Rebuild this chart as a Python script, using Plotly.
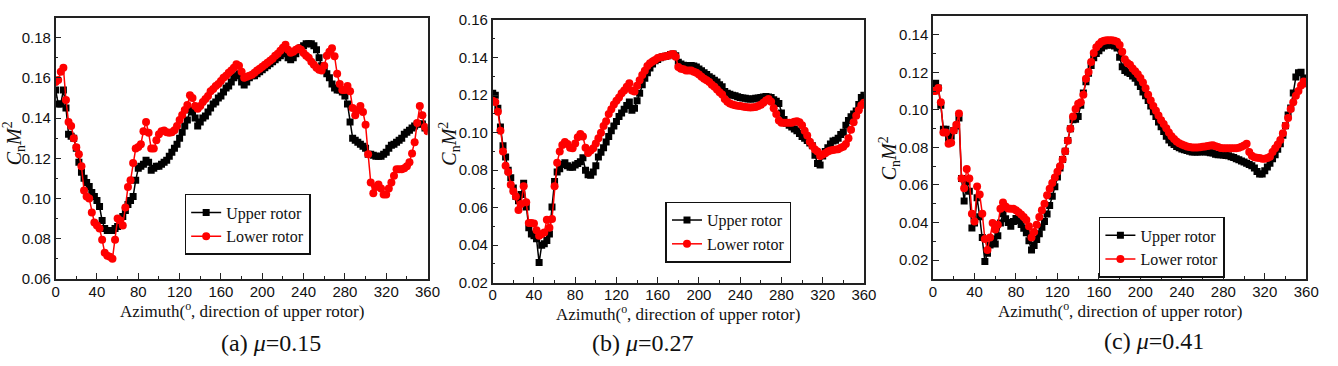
import plotly.graph_objects as go

# Azimuth grid (deg), shared by all series
azimuth = [i * 2.5 for i in range(145)]

# (a) mu = 0.15
a_upper = [0.154,0.147,0.147,0.154,0.145,0.132,0.131,0.130,0.125,0.118,0.113,0.110,0.108,0.106,0.103,0.101,0.099,0.096,0.089,0.085,
           0.084,0.084,0.084,0.085,0.086,0.089,0.091,0.094,0.097,0.099,0.101,0.109,0.115,0.116,0.117,0.119,0.118,0.114,0.115,0.116,
           0.116,0.117,0.118,0.119,0.121,0.123,0.125,0.127,0.130,0.133,0.136,0.139,0.144,0.143,0.140,0.136,0.138,0.140,0.141,0.143,
           0.145,0.147,0.148,0.150,0.151,0.153,0.155,0.156,0.158,0.160,0.161,0.162,0.158,0.1565,0.158,0.160,0.161,0.161,0.162,0.163,
           0.164,0.165,0.166,0.167,0.168,0.169,0.170,0.171,0.172,0.173,0.170,0.169,0.170,0.172,0.174,0.175,0.176,0.177,0.177,0.177,
           0.176,0.174,0.170,0.166,0.164,0.162,0.160,0.157,0.155,0.154,0.154,0.153,0.151,0.147,0.138,0.130,0.129,0.128,0.127,0.126,
           0.125,0.122,0.122,0.1215,0.121,0.121,0.121,0.122,0.123,0.125,0.1265,0.127,0.128,0.129,0.130,0.132,0.133,0.134,0.135,0.136,
           0.137,0.137,0.137,0.135,0.134]
a_lower = [0.158,0.159,0.163,0.165,0.149,0.138,0.136,0.130,0.1255,0.122,0.116,0.104,0.101,0.100,0.093,0.088,0.0865,0.085,0.0795,0.073,
           0.0715,0.071,0.070,0.0795,0.090,0.089,0.0865,0.0955,0.1057,0.109,0.1176,0.1248,0.1256,0.127,0.1335,0.138,0.1327,0.1248,0.1248,0.129,
           0.132,0.1335,0.1338,0.1330,0.1327,0.1330,0.1340,0.136,0.139,0.1415,0.144,0.1465,0.1513,0.150,0.146,0.1446,0.146,0.148,0.1495,0.151,
           0.1533,0.1545,0.156,0.157,0.1585,0.160,0.161,0.1625,0.1637,0.165,0.1668,0.166,0.163,0.160,0.1605,0.161,0.1615,0.1625,0.1637,0.1645,
           0.1655,0.1665,0.1675,0.1685,0.1695,0.171,0.172,0.1735,0.175,0.1765,0.174,0.1725,0.173,0.174,0.1748,0.174,0.1724,0.171,0.170,0.168,
           0.1665,0.165,0.164,0.1637,0.166,0.171,0.173,0.1748,0.1708,0.162,0.157,0.154,0.154,0.156,0.1533,0.145,0.1414,0.144,0.146,0.143,
           0.1367,0.122,0.108,0.1026,0.1057,0.107,0.105,0.102,0.102,0.105,0.108,0.1113,0.1145,0.1145,0.1145,0.115,0.116,0.118,0.1224,0.128,
           0.1375,0.146,0.1414,0.1356,0.1335]

# (b) mu = 0.27
b_upper = [0.121,0.120,0.113,0.103,0.093,0.087,0.080,0.076,0.0705,0.066,0.0637,0.067,0.073,0.0603,0.0493,0.046,0.045,0.0434,0.0307,0.040,
           0.0408,0.0425,0.046,0.0603,0.074,0.079,0.0807,0.083,0.084,0.0823,0.0815,0.0815,0.0827,0.0835,0.0845,0.0866,0.080,0.0775,0.0773,0.079,
           0.0823,0.087,0.0895,0.092,0.095,0.098,0.101,0.1035,0.106,0.1086,0.1105,0.1125,0.1145,0.1163,0.112,0.113,0.117,0.121,0.1256,0.129,
           0.132,0.1345,0.1366,0.1383,0.139,0.140,0.1405,0.1408,0.141,0.1417,0.142,0.141,0.1375,0.1366,0.136,0.1358,0.1358,0.1358,0.1355,0.135,
           0.134,0.133,0.132,0.131,0.1298,0.129,0.128,0.127,0.1255,0.1245,0.122,0.121,0.1205,0.120,0.1197,0.1192,0.1188,0.1185,0.1183,0.118,
           0.118,0.118,0.1183,0.1185,0.1188,0.119,0.1193,0.119,0.1188,0.1175,0.1168,0.1155,0.1105,0.107,0.105,0.104,0.103,0.102,0.101,0.0995,
           0.098,0.097,0.0958,0.0945,0.093,0.088,0.0835,0.0827,0.0875,0.090,0.092,0.094,0.0956,0.0959,0.097,0.099,0.1002,0.104,0.1065,0.1085,
           0.110,0.1115,0.115,0.1188,0.120]
b_lower = [0.117,0.1163,0.1112,0.101,0.090,0.0823,0.079,0.0722,0.0688,0.066,0.0587,0.062,0.0714,0.0629,0.0518,0.0518,0.0515,0.048,0.045,0.046,
           0.0468,0.0536,0.0493,0.054,0.0714,0.084,0.090,0.0934,0.095,0.094,0.092,0.0917,0.0942,0.0976,0.0993,0.098,0.092,0.0892,0.0905,0.0917,
           0.0942,0.097,0.100,0.1035,0.1061,0.110,0.1125,0.115,0.117,0.1188,0.121,0.1225,0.1245,0.1264,0.1225,0.122,0.125,0.128,0.1307,0.133,
           0.1355,0.137,0.138,0.1388,0.1398,0.1402,0.1405,0.1408,0.141,0.1417,0.142,0.1405,0.135,0.1341,0.1338,0.1332,0.1332,0.1332,0.1325,0.1319,
           0.131,0.1298,0.1288,0.128,0.127,0.1256,0.1245,0.123,0.1215,0.1203,0.118,0.1165,0.1155,0.115,0.1146,0.1144,0.1142,0.114,0.1137,0.1135,
           0.1134,0.1135,0.1137,0.1142,0.1149,0.116,0.1171,0.118,0.1165,0.113,0.110,0.1065,0.1053,0.1053,0.1053,0.1053,0.1053,0.1058,0.1061,0.1055,
           0.104,0.101,0.0985,0.0951,0.093,0.091,0.090,0.0875,0.0883,0.089,0.090,0.0905,0.0908,0.091,0.0912,0.092,0.0925,0.094,0.097,0.1015,
           0.1055,0.109,0.112,0.1146,0.116]

# (c) mu = 0.41
c_upper = [0.114,0.1142,0.1117,0.1024,0.0897,0.0897,0.0846,0.086,0.089,0.0914,0.0956,0.0634,0.0515,0.0617,0.0566,0.0371,0.0397,0.0532,0.0431,0.032,
           0.0193,0.0236,0.028,0.0312,0.0286,0.0329,0.0397,0.0447,0.042,0.040,0.038,0.0405,0.0422,0.041,0.039,0.037,0.0346,0.0303,0.0253,0.0278,
           0.031,0.034,0.0375,0.0405,0.0445,0.049,0.054,0.059,0.0642,0.069,0.0735,0.078,0.0837,0.090,0.0947,0.095,0.0965,0.1024,0.109,0.115,
           0.1195,0.1236,0.1278,0.130,0.1315,0.1329,0.134,0.1346,0.1346,0.1346,0.134,0.1329,0.128,0.123,0.121,0.120,0.1193,0.118,0.1168,0.1147,
           0.1125,0.1095,0.1075,0.105,0.102,0.099,0.0965,0.0935,0.091,0.0885,0.086,0.084,0.0825,0.0815,0.0805,0.0798,0.0792,0.0788,0.0784,0.078,
           0.0776,0.0775,0.0775,0.0776,0.0778,0.0776,0.0775,0.0772,0.077,0.0763,0.0761,0.0761,0.076,0.0757,0.0755,0.075,0.0746,0.074,0.0734,0.0728,
           0.0722,0.0716,0.0709,0.0702,0.069,0.0672,0.0659,0.0659,0.0676,0.0695,0.0715,0.074,0.0761,0.079,0.082,0.0865,0.0915,0.0973,0.101,0.109,
           0.1175,0.1198,0.120,0.117,0.115]
c_lower = [0.110,0.110,0.1117,0.104,0.088,0.088,0.082,0.0825,0.089,0.092,0.0981,0.0634,0.0583,0.0685,0.0634,0.0447,0.0405,0.0592,0.0549,0.0447,
           0.0312,0.0253,0.032,0.0397,0.0363,0.0388,0.0473,0.0507,0.0485,0.0475,0.0473,0.0473,0.0466,0.0455,0.0443,0.043,0.0414,0.038,0.032,0.035,
           0.0388,0.043,0.0465,0.050,0.0545,0.058,0.061,0.064,0.067,0.070,0.0736,0.078,0.0835,0.090,0.0965,0.1005,0.1032,0.104,0.108,0.1165,
           0.1202,0.1255,0.1303,0.1333,0.135,0.1363,0.1368,0.1371,0.1371,0.1371,0.1368,0.1363,0.1345,0.131,0.127,0.125,0.124,0.122,0.1205,0.119,
           0.117,0.1145,0.1115,0.108,0.105,0.102,0.0995,0.097,0.0945,0.0925,0.0902,0.088,0.086,0.0845,0.0832,0.0822,0.0815,0.081,0.0805,0.0802,
           0.080,0.080,0.080,0.0801,0.0803,0.0805,0.0807,0.081,0.0812,0.0806,0.0802,0.0797,0.0795,0.0795,0.0795,0.0795,0.0795,0.0795,0.0798,0.0803,
           0.081,0.082,0.0775,0.0755,0.0748,0.0745,0.0744,0.074,0.074,0.0744,0.075,0.0775,0.0795,0.0815,0.084,0.0875,0.0915,0.0956,0.1005,0.104,
           0.1075,0.110,0.113,0.1151,0.114]

series_names = ["Upper rotor", "Lower rotor"]
captions = ["(a) <i>μ</i>=0.15", "(b) <i>μ</i>=0.27", "(c) <i>μ</i>=0.41"]
y_ranges = [[0.06, 0.19], [0.02, 0.16], [0.01, 0.15]]
x_ticks = [0, 40, 80, 120, 160, 200, 240, 280, 320, 360]

panels = [(a_upper, a_lower), (b_upper, b_lower), (c_upper, c_lower)]

W, H = 1338, 366
# pixel boxes of plot areas: (left, right, top, bottom)
boxes = [(52.3, 429, 9, 283), (495, 871, 11.7, 287), (941, 1319, 7.3, 283)]
legend_pos = [(183, 194), (670, 202), (1109, 218)]
ytitle_pos = [(11, 141), (452, 141), (897, 157)]
xtitle_y = [316, 319, 316]
caption_pos = [(270, 350), (647, 350), (1165, 348)]

SERIF = "Liberation Serif"
SANS = "Liberation Sans"

fig = go.Figure()
styles = [dict(color="#000000", symbol="square", size=7),
          dict(color="#ff0000", symbol="circle", size=8)]

layout = dict(width=W, height=H, margin=dict(l=0, r=0, t=0, b=0),
              paper_bgcolor="white", plot_bgcolor="white", showlegend=True)
annotations = []

for i, (up, lo) in enumerate(panels):
    n = "" if i == 0 else str(i + 1)
    xa, ya = "x" + n, "y" + n
    leg = "legend" + n
    for name, vals, st in zip(series_names, (up, lo), styles):
        fig.add_trace(go.Scatter(
            x=azimuth, y=vals, name=name, mode="lines+markers",
            xaxis=xa, yaxis=ya, legend=leg,
            line=dict(color=st["color"], width=1.5),
            marker=dict(color=st["color"], symbol=st["symbol"], size=st["size"], line=dict(width=0)),
        ))
    l, r, t, b = boxes[i]
    axis_common = dict(showline=True, mirror=True, linecolor="#222", linewidth=1.5,
                       showgrid=False, zeroline=False, ticks="inside", ticklen=6,
                       tickcolor="#222", tickwidth=1.2,
                       tickfont=dict(family=SANS, size=15, color="#111"))
    layout["xaxis" + n] = dict(axis_common, domain=[l / W, r / W], anchor=ya,
                               range=[0, 360], tickvals=x_ticks, ticklabelstandoff=-2,
                               minor=dict(ticks="inside", ticklen=3, dtick=20, tick0=0, tickcolor="#222"))
    layout["yaxis" + n] = dict(axis_common, domain=[1 - b / H, 1 - t / H], anchor=xa,
                               range=y_ranges[i], tick0=0.02, dtick=0.02, tickformat=".2f",
                               minor=dict(ticks="inside", ticklen=3, dtick=0.01, tick0=0.0, tickcolor="#222"))
    lx, ly = legend_pos[i]
    layout[leg] = dict(x=lx / W, y=1 - ly / H, xanchor="left", yanchor="top",
                       bgcolor="white", bordercolor="#111", borderwidth=1.5,
                       font=dict(family=SERIF, size=16, color="#111"),
                       tracegroupgap=0, itemwidth=30)
    annotations.append(dict(text="Azimuth(<sup>o</sup>, direction of upper rotor)",
                            x=(l + r) / 2 / W, y=1 - xtitle_y[i] / H, xref="paper", yref="paper",
                            xanchor="center", yanchor="middle", showarrow=False,
                            font=dict(family=SERIF, size=17, color="#111")))
    tx, ty = ytitle_pos[i]
    annotations.append(dict(text="<i>C</i><sub>n</sub><i>M</i><sup>2</sup>",
                            x=tx / W, y=1 - ty / H, xref="paper", yref="paper",
                            xanchor="center", yanchor="middle", showarrow=False, textangle=-90,
                            font=dict(family=SERIF, size=20, color="#111")))
    cx, cy = caption_pos[i]
    annotations.append(dict(text=captions[i], x=cx / W, y=1 - cy / H, xref="paper", yref="paper",
                            xanchor="center", yanchor="middle", showarrow=False,
                            font=dict(family=SERIF, size=24, color="#111")))

layout["annotations"] = annotations
fig.update_layout(**layout)
fig.write_html("out.html", config={"displayModeBar": False},
               post_script="document.body.style.margin='0';")
